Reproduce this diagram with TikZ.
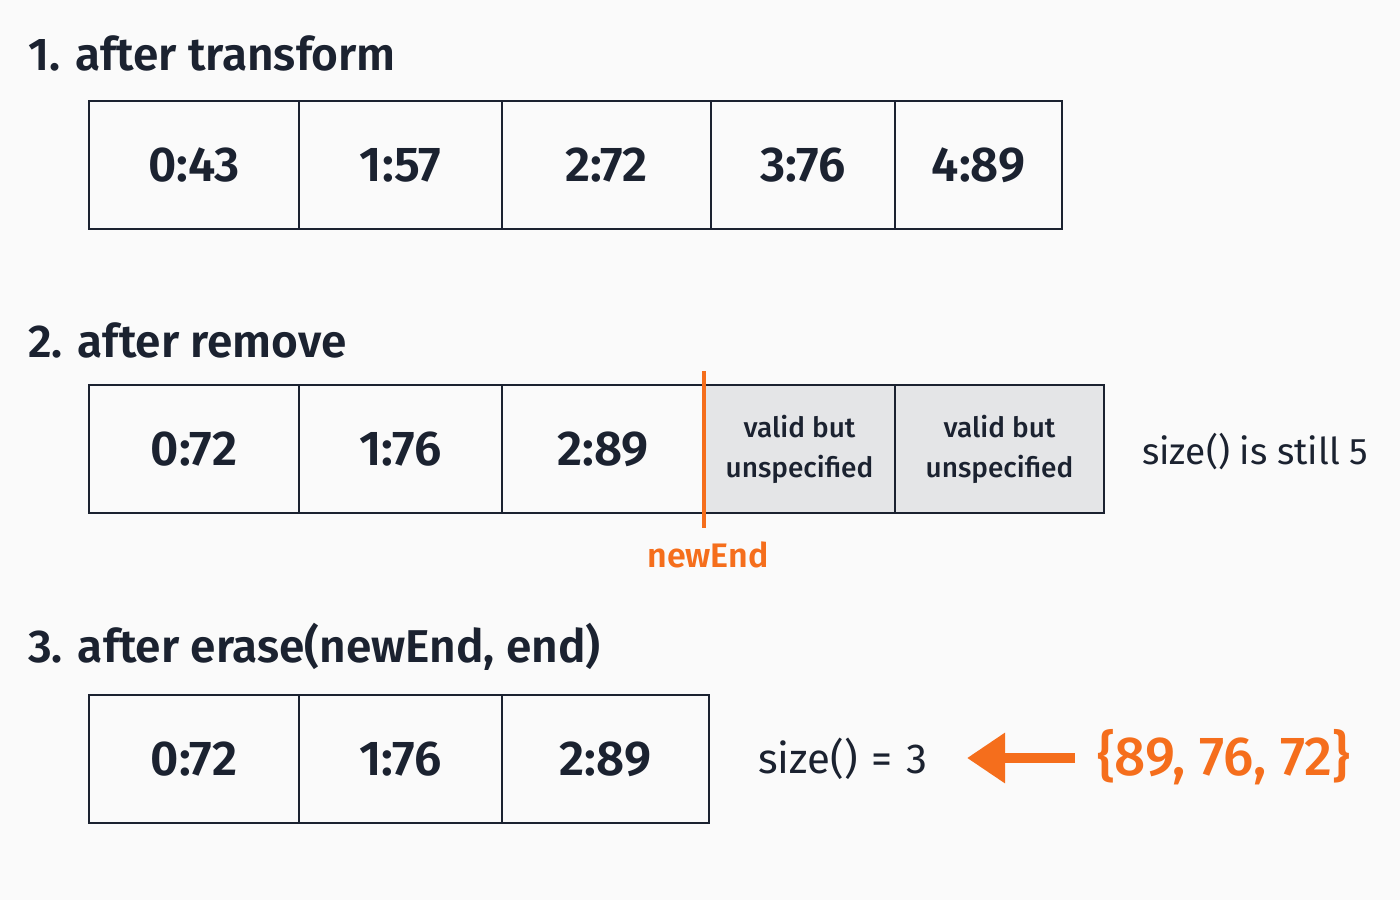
\documentclass[tikz,border=0pt]{standalone}
\usepackage{fontspec}
\setmainfont{Fira Sans}[BoldFont={Fira Sans SemiBold}]
\newfontfamily\medfont{Fira Sans Medium}
\usetikzlibrary{arrows.meta}
\definecolor{ink}{HTML}{1B2230}
\definecolor{accent}{HTML}{F56E1C}
\definecolor{bgc}{HTML}{FAFAFA}
\definecolor{cellgray}{HTML}{E4E5E7}
\begin{document}
\begin{tikzpicture}[x=1pt,y=-1pt,
  cell/.style={draw=ink,line width=2.6pt,inner sep=0pt,outer sep=0pt,minimum height=128pt,text=ink,font=\fontsize{49}{50}\selectfont\bfseries},
  gcell/.style={cell,fill=cellgray,font=\fontsize{28}{40}\selectfont\medfont,align=center},
  title/.style={anchor=base west,text=ink,inner sep=0pt,font=\fontsize{46}{50}\selectfont\bfseries},
  note/.style={text=ink,inner sep=0pt,font=\fontsize{37}{42}\selectfont}]
\fill[bgc] (0,0) rectangle (1400,900);
\useasboundingbox (0,0) rectangle (1400,900);
% titles
\node[title] (t1) at (28,70) {1. after transform};
\node[title] (t2) at (28,357) {2. after remove};
\node[title] (t3) at (28,662) {3. after erase(newEnd, end)};
% row 1
\node[cell,minimum width=210pt] (a0) at (194,165) {0:43};
\node[cell,minimum width=203pt] (a1) at (400.5,165) {1:57};
\node[cell,minimum width=209pt] (a2) at (606.5,165) {2:72};
\node[cell,minimum width=184pt] (a3) at (803,165) {3:76};
\node[cell,minimum width=167pt] (a4) at (978.5,165) {4:89};
% row 2
\node[cell,minimum width=210pt] (b0) at (194,449) {0:72};
\node[cell,minimum width=203pt] (b1) at (400.5,449) {1:76};
\node[cell,minimum width=202pt] (b2) at (603,449) {2:89};
\node[gcell,minimum width=191pt] (b3) at (799.5,449) {valid but\\unspecified};
\node[gcell,minimum width=209pt] (b4) at (999.5,449) {valid but\\unspecified};
\coordinate (ntop) at (704,371);
\coordinate (nbot) at (704,528);
\draw[accent,line width=4.5pt] (ntop) -- (nbot);
\node[text=accent,inner sep=0pt,font=\fontsize{34}{36}\selectfont\bfseries] (ne) at (708,555) {newEnd};
\node[note,anchor=west] (s2) at (1142,452) {size() is still 5};
% row 3
\node[cell,minimum width=210pt] (c0) at (194,759) {0:72};
\node[cell,minimum width=203pt] (c1) at (400.5,759) {1:76};
\node[cell,minimum width=207pt] (c2) at (605.5,759) {2:89};
\node[note,anchor=west,font=\fontsize{42}{46}\selectfont] (s3) at (758,759) {size()\hspace{14pt}=\hspace{14pt}3};
\node[text=accent,inner sep=0pt,anchor=west,font=\fontsize{55}{58}\selectfont\medfont] (vals) at (1097,757) {\{89, 76, 72\}};
\coordinate (tail) at (1075,758);
\coordinate (tip) at (967,758);
\draw[accent,line width=10pt,-{Triangle[length=38pt,width=48pt]}] (tail) -- (tip);
\end{tikzpicture}
\end{document}
